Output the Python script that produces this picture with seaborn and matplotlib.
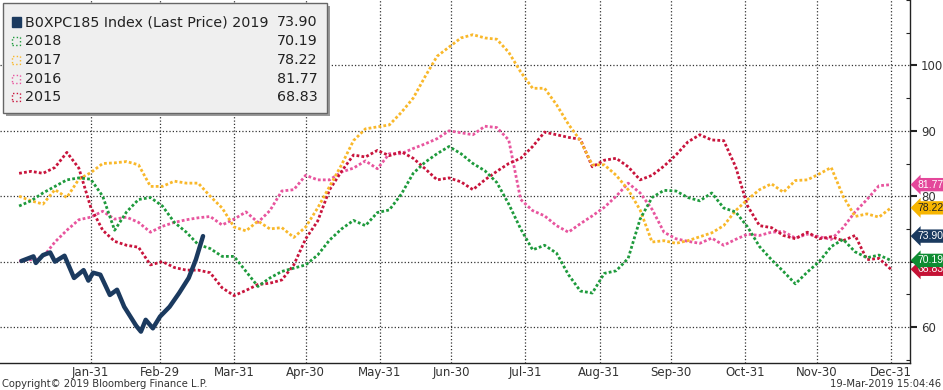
import matplotlib
matplotlib.use('Agg')
import matplotlib.pyplot as plt
import matplotlib.transforms as mtransforms
from matplotlib.patches import Rectangle
from matplotlib.ticker import MultipleLocator
import seaborn as sns
import pandas as pd

sns.set_style('white')
plt.rcParams['font.family'] = ['DejaVu Sans']

# day of year (leap-year calendar) for the past years, sampled every 5 days
days = list(range(1, 367, 5))

# 2019 year to date
days_2019 = [2, 7, 8, 11, 14, 16, 20, 24, 28, 30, 32, 35, 39, 42, 45,
             50, 52, 54, 57, 60, 64, 68, 72, 75, 78]
val_2019 = [70.1, 70.8, 69.8, 71.0, 71.4, 70.0, 70.9, 67.5, 68.7, 67.1, 68.3, 68.0, 64.9, 65.7, 63.1,
            60.2, 59.3, 61.1, 59.8, 61.6, 63.1, 65.2, 67.5, 70.3, 73.9]

val_2018 = [78.5, 79.3, 80.5, 81.5, 82.5, 82.8, 82.6, 80.0, 74.8, 77.6,
            79.5, 79.8, 78.5, 76.0, 74.5, 72.6, 72.0, 70.8, 70.8, 68.5,
            66.2, 67.5, 68.5, 69.0, 69.5, 71.0, 73.3, 75.0, 76.3, 75.5,
            77.5, 77.9, 80.3, 83.5, 85.2, 86.5, 87.6, 86.5, 85.0, 83.9,
            82.1, 78.8, 75.0, 71.8, 72.5, 71.3, 68.0, 65.5, 65.2, 68.2,
            68.6, 70.5, 76.5, 79.8, 80.9, 80.8, 79.8, 79.3, 80.5, 78.2,
            77.6, 75.3, 72.3, 70.3, 68.5, 66.6, 68.4, 70.0, 72.3, 73.4,
            71.5, 70.6, 71.0, 70.19]

val_2017 = [80.0, 79.3, 78.8, 81.0, 79.8, 82.6, 83.6, 85.0, 85.1, 85.3,
            84.8, 81.5, 81.5, 82.3, 82.0, 82.0, 80.0, 78.2, 75.3, 74.7,
            76.2, 75.0, 75.2, 73.7, 75.3, 78.2, 81.5, 84.8, 88.5, 90.3,
            90.6, 90.9, 92.8, 95.0, 98.3, 101.4, 102.8, 104.2, 104.7, 104.2,
            104.0, 102.0, 99.0, 96.5, 96.5, 94.0, 91.0, 88.5, 84.8, 84.8,
            83.2, 81.0, 77.9, 73.0, 73.2, 72.8, 73.2, 73.8, 74.4, 75.5,
            77.8, 79.5, 81.0, 81.9, 80.6, 82.4, 82.5, 83.4, 84.4, 80.0,
            76.9, 77.3, 76.8, 78.22]

val_2016 = [70.1, 70.3, 70.7, 73.0, 74.8, 76.4, 76.8, 77.7, 76.5, 76.8,
            76.0, 74.5, 75.4, 76.0, 76.4, 76.7, 76.9, 75.6, 76.5, 77.6,
            76.0, 77.8, 80.8, 81.0, 83.2, 82.5, 82.5, 83.7, 84.3, 85.4,
            84.2, 86.5, 86.5, 87.3, 88.0, 88.8, 90.0, 89.7, 89.4, 90.7,
            90.5, 88.6, 79.5, 77.8, 77.0, 75.5, 74.5, 75.8, 77.0, 78.3,
            80.0, 82.0, 80.5, 78.0, 74.5, 73.5, 73.1, 72.8, 73.6, 72.5,
            73.4, 74.2, 74.0, 74.5, 74.6, 73.6, 74.2, 73.8, 73.4, 75.2,
            77.6, 79.5, 81.6, 81.77]

val_2015 = [83.5, 83.8, 83.5, 84.4, 86.7, 84.3, 78.3, 74.8, 73.1, 72.5,
            72.2, 69.5, 70.0, 69.1, 68.7, 68.7, 68.3, 66.0, 64.8, 65.6,
            66.5, 66.7, 67.2, 69.5, 73.5, 76.2, 81.0, 83.8, 86.3, 86.0,
            87.0, 86.2, 86.8, 85.8, 84.2, 82.5, 82.8, 82.2, 81.0, 82.5,
            83.8, 85.0, 85.8, 87.6, 89.8, 89.4, 89.0, 88.7, 84.5, 85.5,
            85.8, 84.5, 82.5, 83.2, 84.6, 86.3, 88.3, 89.4, 88.6, 88.5,
            84.5, 78.5, 75.5, 75.2, 74.0, 73.5, 74.5, 73.5, 73.8, 73.2,
            74.0, 70.3, 70.5, 68.83]

tick_days = [31, 60, 91, 121, 152, 182, 213, 244, 274, 305, 335, 366]
tick_labels = ['Jan-31', 'Feb-29', 'Mar-31', 'Apr-30', 'May-31', 'Jun-30',
               'Jul-31', 'Aug-31', 'Sep-30', 'Oct-31', 'Nov-30', 'Dec-31']

legend_names = ['B0XPC185 Index (Last Price) 2019', '2018', '2017', '2016', '2015']
last_values = [73.90, 70.19, 78.22, 81.77, 68.83]

navy = '#1B3A5F'
green = '#1E9A3C'
orange = '#F9B82A'
pink = '#E8559E'
red = '#C8143C'

fig = plt.figure(figsize=(9.43, 3.90), dpi=100)
ax = fig.add_axes([0.0, 1 - 363 / 390, 910 / 943, 363 / 390])

dotted = (0, (1, 0.8))
for vals, color in [(val_2016, pink), (val_2015, red), (val_2017, orange), (val_2018, green)]:
    df = pd.DataFrame({'day': days, 'value': vals})
    sns.lineplot(data=df, x='day', y='value', color=color, lw=2.0, linestyle=dotted, ax=ax)

df19 = pd.DataFrame({'day': days_2019, 'value': val_2019})
sns.lineplot(data=df19, x='day', y='value', color=navy, lw=3.2, ax=ax, zorder=5)

ax.set_xlim(-7, 374)
ax.set_ylim(54.5, 110)
ax.set_xlabel('')
ax.set_ylabel('')
ax.set_xticks(tick_days, tick_labels)
ax.yaxis.tick_right()
ax.set_yticks([60, 70, 80, 90, 100])
ax.yaxis.set_minor_locator(MultipleLocator(5))
ax.grid(True, which='major', linestyle=':', color='#333333', lw=0.9)
ax.tick_params(axis='y', which='major', direction='out', length=5, width=1.5,
               labelsize=8.5, pad=3, colors='#222222', labelcolor='#333333')
ax.tick_params(axis='y', which='minor', direction='in', length=3, width=0.8, colors='#222222')
ax.tick_params(axis='x', direction='in', length=3, labelsize=8.5, pad=2, labelcolor='#333333')
for s in ['top', 'left']:
    ax.spines[s].set_visible(False)
for s in ['bottom', 'right']:
    ax.spines[s].set_color('#222222')
    ax.spines[s].set_linewidth(1)

# value tags on the right axis
trans = mtransforms.blended_transform_factory(ax.transAxes, ax.transData)
tags = [(68.83, '#C41235', 'white'), (70.19, '#0E8C32', 'white'), (73.90, navy, 'white'),
        (78.22, '#F7B500', '#222222'), (81.77, '#E4479A', 'white')]
for v, fc, tc in tags:
    ax.text(1.0085, v, f'{v:.2f}', transform=trans, ha='left', va='center', fontsize=7.5,
            family='Liberation Sans', color=tc,
            bbox=dict(boxstyle='larrow,pad=0.16', fc=fc, ec='none'),
            clip_on=False, zorder=6)


def fx(px):
    return px / 943


def fy(py):
    return 1 - py / 390


# legend box
fig.patches.append(Rectangle((fx(6), fy(116)), fx(324), 110 / 390, transform=fig.transFigure,
                             fc='#9A9A9A', ec='none', zorder=1))
fig.patches.append(Rectangle((fx(3), fy(113)), fx(324), 110 / 390, transform=fig.transFigure,
                             fc='#EFEFEF', ec='#666666', lw=1, zorder=1))
row_y = [22, 41, 60, 79, 97]
row_colors = [navy, green, orange, pink, red]
for i, (name, val, c, ry) in enumerate(zip(legend_names, last_values, row_colors, row_y)):
    if i == 0:
        fig.patches.append(Rectangle((fx(12), fy(ry + 4.5)), fx(9), 9 / 390, transform=fig.transFigure,
                                     fc=c, ec=c, zorder=2))
    else:
        fig.patches.append(Rectangle((fx(12), fy(ry + 4)), fx(8), 8 / 390, transform=fig.transFigure,
                                     fc='none', ec=c, lw=1, linestyle=':', zorder=2))
    fig.text(fx(25), fy(ry), name, ha='left', va='center', fontsize=10.3, color='#222222', zorder=3)
    fig.text(fx(318), fy(ry), f'{val:.2f}', ha='right', va='center', fontsize=10.3, color='#222222', zorder=3)

fig.text(fx(2), fy(384), 'Copyright\u00a9 2019 Bloomberg Finance L.P.', ha='left', va='center',
         fontsize=7.2, color='#333333')
fig.text(fx(941), fy(384), '19-Mar-2019 15:04:46', ha='right', va='center',
         fontsize=7.2, color='#333333')

fig.savefig('out.png', dpi=100)
